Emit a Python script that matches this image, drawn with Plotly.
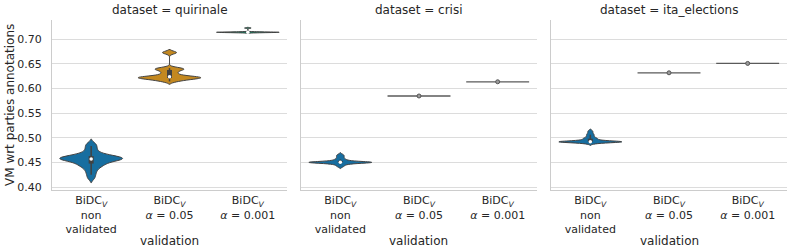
import numpy as np
import plotly.graph_objects as go

datasets = ["quirinale", "crisi", "ita_elections"]
categories = ["non validated", "alpha 0.05", "alpha 0.001"]
tick_labels = ["BiDC<sub><i>V</i></sub><br>non<br>validated",
               "BiDC<sub><i>V</i></sub><br><i>α</i> = 0.05",
               "BiDC<sub><i>V</i></sub><br><i>α</i> = 0.001"]
colors = ["#176EA0", "#C38820", "#168B6A"]

quirinale_nv = [0.418, 0.425, 0.431, 0.436, 0.440, 0.443, 0.445, 0.447, 0.449, 0.451,
                0.453, 0.454, 0.455, 0.456, 0.457, 0.457, 0.458, 0.458, 0.459, 0.460,
                0.461, 0.462, 0.463, 0.464, 0.466, 0.469, 0.473, 0.478, 0.483, 0.488]
quirinale_005 = [0.614, 0.616, 0.618, 0.619, 0.620, 0.621, 0.621, 0.622, 0.622, 0.623,
                 0.623, 0.624, 0.626, 0.629, 0.632, 0.635, 0.638, 0.639, 0.640, 0.641,
                 0.672, 0.673]
quirinale_0001 = [0.7133, 0.7134, 0.7135, 0.7135, 0.7136, 0.7136, 0.7137, 0.7137,
                  0.7138, 0.7140, 0.7222]
crisi_nv = [0.4500, 0.4500, 0.4500, 0.4500, 0.4500, 0.4500, 0.4501, 0.4501, 0.4499,
            0.4499, 0.4500, 0.4500, 0.4500, 0.4500, 0.4500,
            0.441, 0.443, 0.445, 0.446, 0.447, 0.448, 0.449, 0.451, 0.452, 0.453,
            0.454, 0.455, 0.456, 0.458, 0.460, 0.462, 0.464, 0.466]
crisi_005 = [0.5845]
crisi_0001 = [0.6133]
ita_nv = [0.4917, 0.4917, 0.4917, 0.4917, 0.4917, 0.4917, 0.4918, 0.4918, 0.4916,
          0.4916, 0.4917, 0.4917, 0.4917, 0.4917, 0.4917,
          0.488, 0.489, 0.490, 0.491, 0.493, 0.494, 0.495, 0.496, 0.497, 0.498,
          0.499, 0.500, 0.502, 0.504, 0.506, 0.508, 0.511, 0.514]
ita_005 = [0.6315]
ita_0001 = [0.6505]

series = {
    "quirinale": [quirinale_nv, quirinale_005, quirinale_0001],
    "crisi": [crisi_nv, crisi_005, crisi_0001],
    "ita_elections": [ita_nv, ita_005, ita_0001],
}
bandwidths = {
    "quirinale": [0.0045, 0.0028, 0.0007],
    "crisi": [0.0018, 0, 0],
    "ita_elections": [0.0018, 0, 0],
}

EDGE = "#424242"
FONT = "DejaVu Sans"
FS_TICK = 11
FS_LAB = 12
TXT = "#262626"

fig = go.Figure()
for p, ds in enumerate(datasets):
    xa = "x" if p == 0 else f"x{p+1}"
    ya = "y" if p == 0 else f"y{p+1}"
    for i, vals in enumerate(series[ds]):
        arr = np.array(vals)
        if np.ptp(arr) == 0:
            v = float(arr[0])
            fig.add_trace(go.Scatter(x=[i - 0.4, i + 0.4], y=[v, v], mode="lines",
                                     line=dict(color="#5a5a5a", width=1.3),
                                     xaxis=xa, yaxis=ya, showlegend=False, hoverinfo="skip"))
            fig.add_trace(go.Scatter(x=[i], y=[v], mode="markers",
                                     marker=dict(color="#9a9a9a", size=4,
                                                 line=dict(color="#555555", width=1)),
                                     xaxis=xa, yaxis=ya, showlegend=False, hoverinfo="skip"))
            continue
        fig.add_trace(go.Violin(y=vals, x0=i, width=0.8, side="both", points=False,
                                bandwidth=bandwidths[ds][i], spanmode="soft",
                                fillcolor=colors[i], line=dict(color=EDGE, width=1),
                                box=dict(visible=False), meanline=dict(visible=False),
                                opacity=1, xaxis=xa, yaxis=ya, showlegend=False,
                                hoverinfo="skip"))
        q1, med, q3 = np.percentile(arr, [25, 50, 75])
        iqr = q3 - q1
        lo = arr[arr >= q1 - 1.5 * iqr].min()
        hi = arr[arr <= q3 + 1.5 * iqr].max()
        fig.add_trace(go.Scatter(x=[i, i], y=[lo, hi], mode="lines",
                                 line=dict(color=EDGE, width=1.5),
                                 xaxis=xa, yaxis=ya, showlegend=False, hoverinfo="skip"))
        fig.add_trace(go.Scatter(x=[i, i], y=[q1, q3], mode="lines",
                                 line=dict(color=EDGE, width=5),
                                 xaxis=xa, yaxis=ya, showlegend=False, hoverinfo="skip"))
        fig.add_trace(go.Scatter(x=[i], y=[med], mode="markers",
                                 marker=dict(color="white", size=3.5),
                                 xaxis=xa, yaxis=ya, showlegend=False, hoverinfo="skip"))

W = 735.0
domains = [[0, 235 / W], [249 / W, 485 / W], [499 / W, 1.0]]
layout = dict(
    width=793, height=252,
    margin=dict(l=52, r=6, t=20, b=62),
    paper_bgcolor="white", plot_bgcolor="white",
    font=dict(family=FONT, size=FS_LAB, color=TXT),
    annotations=[],
)
yticks = [0.40, 0.45, 0.50, 0.55, 0.60, 0.65, 0.70]
for p, ds in enumerate(datasets):
    xk = "xaxis" if p == 0 else f"xaxis{p+1}"
    yk = "yaxis" if p == 0 else f"yaxis{p+1}"
    ya = "y" if p == 0 else f"y{p+1}"
    xa = "x" if p == 0 else f"x{p+1}"
    layout[xk] = dict(domain=domains[p], anchor=ya, range=[-0.5, 2.5],
                      tickvals=[0, 1, 2], ticktext=tick_labels, showgrid=False,
                      zeroline=False, showline=True, linecolor="#cccccc", linewidth=1,
                      ticks="", ticklabelstandoff=0,
                      tickfont=dict(family=FONT, size=FS_TICK, color=TXT))
    layout[yk] = dict(anchor=xa, range=[0.394, 0.7385], tickvals=yticks,
                      ticktext=[f"{t:.2f}" for t in yticks] if p == 0 else None,
                      showticklabels=(p == 0), showgrid=True, gridcolor="#dcdcdc",
                      gridwidth=1, zeroline=False, showline=True, linecolor="#cccccc",
                      linewidth=1, ticks="", ticklabelstandoff=7,
                      tickfont=dict(family=FONT, size=FS_TICK, color=TXT))
    if p > 0:
        layout[yk]["matches"] = "y"
    cx = (domains[p][0] + domains[p][1]) / 2
    layout["annotations"].append(dict(
        text=f"dataset = {ds}", x=cx, y=1,
        xref="paper", yref="paper", xanchor="center", yanchor="bottom", yshift=1,
        showarrow=False, font=dict(family=FONT, size=FS_LAB, color=TXT)))
    layout["annotations"].append(dict(
        text="validation", x=cx, y=0,
        xref="paper", yref="paper", xanchor="center", yanchor="middle", yshift=-51,
        showarrow=False, font=dict(family=FONT, size=FS_LAB, color=TXT)))

layout["annotations"].append(dict(
    text="VM wrt parties annotations", x=0, y=0.5, xref="paper", yref="paper",
    xanchor="center", yanchor="middle", xshift=-42, textangle=-90,
    showarrow=False, font=dict(family=FONT, size=FS_LAB, color=TXT)))

fig.update_layout(**layout)
fig.write_html("out.html", config={"displayModeBar": False},
               post_script="document.body.style.margin='0px';document.body.style.padding='0px';")
